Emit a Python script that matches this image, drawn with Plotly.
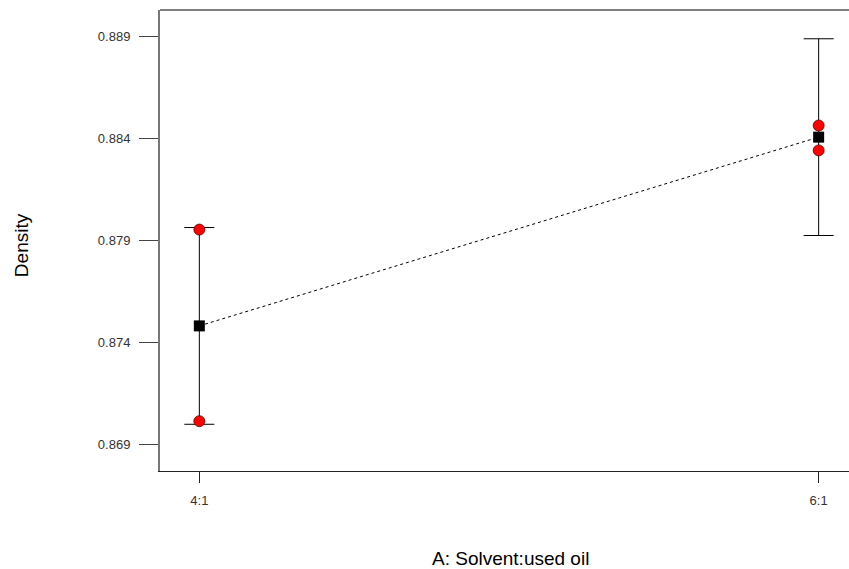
import plotly.graph_objects as go

# Factor levels for A: Solvent:used oil
categories = ["4:1", "6:1"]
levels = [4, 6]

# Predicted mean density and least-significant-difference half width
mean_density = [0.87480, 0.88405]
lsd_half = [0.00482, 0.00482]

# Observed design points (level, density)
obs_level = [4, 4, 6, 6]
obs_density = [0.87952, 0.87013, 0.88462, 0.88340]

y_ticks = [0.869, 0.874, 0.879, 0.884, 0.889]

FONT = "Liberation Sans, Arial, sans-serif"

fig = go.Figure()

# dashed line joining the means
fig.add_trace(go.Scatter(
    x=levels, y=mean_density, mode="lines",
    line=dict(color="black", width=1, dash="3px,3px"),
    hoverinfo="skip", showlegend=False,
))

# LSD bars with the mean markers
fig.add_trace(go.Scatter(
    x=levels, y=mean_density, mode="markers",
    marker=dict(symbol="square", size=11, color="black"),
    error_y=dict(type="data", array=lsd_half, symmetric=True,
                 color="black", thickness=1, width=15),
    showlegend=False,
))

# observed design points
fig.add_trace(go.Scatter(
    x=obs_level, y=obs_density, mode="markers",
    marker=dict(symbol="circle", size=11, color="#ff0000",
                line=dict(color="#600000", width=0.8)),
    showlegend=False,
))

fig.update_layout(
    width=849, height=569,
    margin=dict(l=160, r=0, t=10, b=98),
    paper_bgcolor="white", plot_bgcolor="white",
    font=dict(family=FONT, size=13, color="#333333"),
    xaxis=dict(
        range=[3.873, 6.098],
        tickmode="array", tickvals=levels, ticktext=categories,
        ticks="outside", ticklen=11, tickwidth=1, tickcolor="#222222",
        showline=True, linecolor="#222222", linewidth=1,
        showgrid=False, zeroline=False, ticklabelstandoff=6,
        tickfont=dict(size=13, color="#333333"),
    ),
    yaxis=dict(
        range=[0.86769, 0.89028],
        tickmode="array", tickvals=y_ticks,
        ticktext=[f"{v:.3f}" for v in y_ticks],
        ticks="outside", ticklen=19, tickwidth=1, tickcolor="#444444",
        showline=True, linecolor="#777777", linewidth=2,
        showgrid=False, zeroline=False, ticklabelstandoff=6,
        tickfont=dict(size=13, color="#333333"),
    ),
    shapes=[dict(type="line", xref="paper", yref="paper",
                 x0=0, x1=1, y0=1, y1=1,
                 line=dict(color="black", width=1))],
    annotations=[
        dict(text="Density", xref="paper", yref="paper",
             x=-0.2017, y=0.49, xanchor="center", yanchor="middle",
             textangle=-90, showarrow=False,
             font=dict(family=FONT, size=19, color="black")),
        dict(text="A: Solvent:used oil", xref="paper", yref="paper",
             x=0.508, y=-0.19, xanchor="center", yanchor="middle",
             showarrow=False,
             font=dict(family=FONT, size=19, color="black")),
    ],
)

fig.write_html("out.html")
